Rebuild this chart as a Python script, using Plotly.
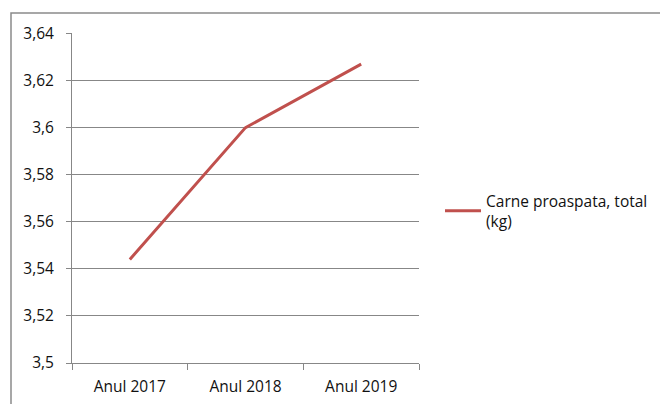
import plotly.graph_objects as go

categories = ["Anul 2017", "Anul 2018", "Anul 2019"]
values = [3.544, 3.600, 3.627]
series_name = "Carne proaspata, total<br>(kg)"
y_tickvals = [3.50, 3.52, 3.54, 3.56, 3.58, 3.60, 3.62, 3.64]
y_ticktext = ["3,5", "3,52", "3,54", "3,56", "3,58", "3,6", "3,62", "3,64"]

FONT = "Open Sans"
FS = 15.5
TXT = "#111111"
GRID = "#878787"

fig = go.Figure()
fig.add_trace(go.Scatter(
    x=categories, y=values, mode="lines", name=series_name,
    line=dict(color="#C0504D", width=3),
))

L, R, T, B = 72, 419, 33, 363
W, H = 660, 404
pw, ph = R - L, B - T

fig.update_layout(
    width=W, height=H,
    margin=dict(l=L, r=W - R, t=T, b=H - B, pad=0, autoexpand=False),
    paper_bgcolor="white", plot_bgcolor="white",
    font=dict(family=FONT, size=FS, color=TXT),
    showlegend=True,
    legend=dict(
        xref="container", yref="container",
        x=440 / W, y=(H - 211) / H, xanchor="left", yanchor="middle",
        font=dict(family=FONT, size=FS, color=TXT),
        bgcolor="rgba(0,0,0,0)", itemwidth=36,
    ),
    xaxis=dict(
        type="category", range=[-0.5, 2.5], showgrid=False,
        showline=True, linecolor=GRID, linewidth=1,
        ticks="outside", tickson="boundaries", ticklen=6, tickcolor=GRID,
        ticklabelstandoff=9, automargin=False,
        tickfont=dict(family=FONT, size=FS, color=TXT),
    ),
    yaxis=dict(
        range=[3.5, 3.6402], tickvals=y_tickvals, ticktext=y_ticktext,
        showgrid=True, gridcolor=GRID, gridwidth=1,
        showline=True, linecolor=GRID, linewidth=1,
        ticks="outside", ticklen=5, tickcolor=GRID,
        ticklabelstandoff=9, automargin=False,
        tickfont=dict(family=FONT, size=FS, color=TXT),
        zeroline=False,
    ),
    shapes=[dict(
        type="rect", xref="paper", yref="paper",
        x0=(11 - L) / pw, x1=(663 - L) / pw,
        y0=-(430 - B) / ph, y1=(B - 13) / ph,
        line=dict(color="#8a8a8a", width=1.5), fillcolor="rgba(0,0,0,0)",
        layer="below",
    )],
)

fig.write_html("out.html")
